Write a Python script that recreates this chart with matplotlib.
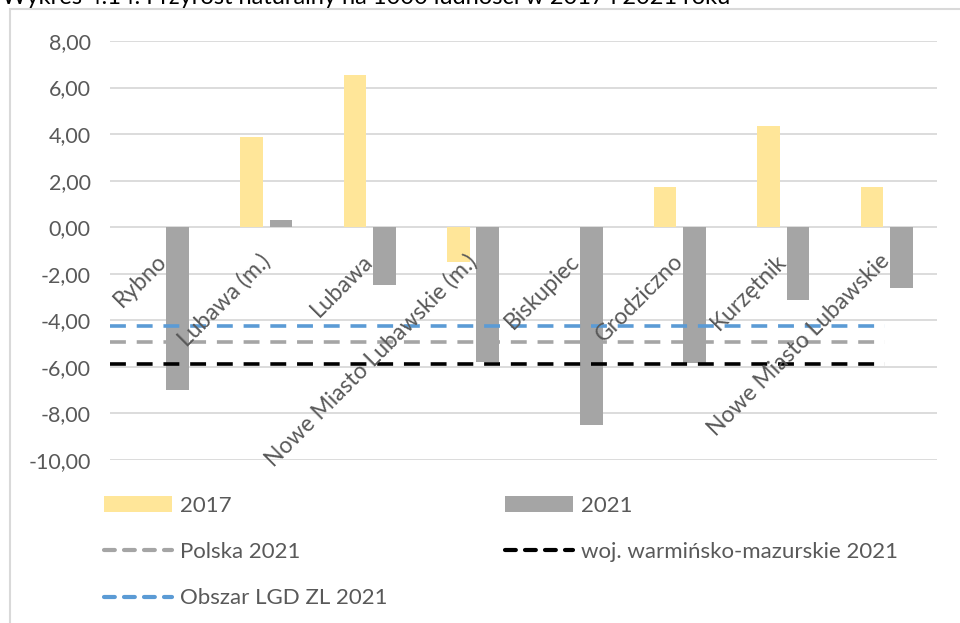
import numpy as np
import matplotlib.pyplot as plt
from matplotlib.lines import Line2D
from matplotlib.patches import Patch, Rectangle

plt.rcParams["font.family"] = ["Lato", "DejaVu Sans"]

# dane z wykresu
gminy = ["Rybno", "Lubawa (m.)", "Lubawa", "Nowe Miasto Lubawskie (m.)",
         "Biskupiec", "Grodziczno", "Kurzętnik", "Nowe Miasto Lubawskie"]
wart_2017 = [0.0, 3.88, 6.52, -1.49, 0.0, 1.73, 4.33, 1.73]
wart_2021 = [-7.0, 0.30, -2.49, -5.78, -8.50, -5.84, -3.13, -2.62]
polska_2021 = -4.95
woj_2021 = -5.87
lgd_2021 = -4.23
y_ticks = [8, 6, 4, 2, 0, -2, -4, -6, -8, -10]

C_2017 = "#FFE699"
C_2021 = "#A5A5A5"
C_LGD = "#5B9BD5"
C_TXT = "#595959"
C_GRID = "#D9D9D9"

W, H = 960, 623
fig = plt.figure(figsize=(W / 100, H / 100), dpi=100)

# ramka obszaru wykresu (przycięta z prawej i z dołu)
fig.patches.append(Rectangle((10 / W, -0.1), 1.2, 1 - 9.5 / H + 0.1,
                             transform=fig.transFigure, fill=False,
                             edgecolor=C_GRID, linewidth=1.5))

# tytuł – w oryginale widoczna tylko dolna część
fig.text(2 / W, 1 - 4 / H, "Wykres 4.14. Przyrost naturalny na 1000 ludności w 2017 i 2021 roku",
         fontsize=17, color="black", ha="left", va="baseline")

ax = fig.add_axes([110 / W, 1 - 460 / H, 827 / W, 419 / H])
x = np.arange(len(gminy))
bw = 0.22
ax.bar(x - 0.13, wart_2017, bw, color=C_2017, zorder=2)
ax.bar(x + 0.155, wart_2021, bw, color=C_2021, zorder=2)

x0, x1 = -0.5, 7.0
ax.plot([x0, x1], [lgd_2021] * 2, color=C_LGD, lw=2.6, ls=(0, (4.4, 3.0)), zorder=3)
ax.plot([x0, x1], [polska_2021] * 2, color=C_2021, lw=2.6, ls=(0, (4.4, 3.0)), zorder=3)
ax.plot([x0, x1], [woj_2021] * 2, color="black", lw=2.6, ls=(0, (4.4, 3.0)), zorder=3)

ax.set_xlim(-0.5, len(gminy) - 0.5)
ax.set_ylim(-10, 8)
ax.set_yticks(y_ticks)
ax.set_yticklabels([f"{v:.2f}".replace(".", ",") for v in y_ticks])
ax.tick_params(axis="y", length=0, pad=14, labelsize=15.5, labelcolor=C_TXT)
ax.set_xticks([])
ax.grid(axis="y", color=C_GRID, linewidth=1.3, zorder=0)
for s in ax.spines.values():
    s.set_visible(False)

# etykiety kategorii pod osią zero
for i, name in enumerate(gminy):
    ax.text(i - 0.06, -1.0, name, rotation=45, rotation_mode="anchor",
            ha="right", va="top", fontsize=16.5, color=C_TXT, zorder=4)

# legenda
dash_h = (0, (2.6, 2.2))
handles = [
    Patch(facecolor=C_2017, edgecolor="none"),
    Line2D([], [], color=C_2021, lw=3, ls=dash_h, dash_capstyle="round"),
    Line2D([], [], color=C_LGD, lw=3, ls=dash_h, dash_capstyle="round"),
    Patch(facecolor=C_2021, edgecolor="none"),
    Line2D([], [], color="black", lw=3, ls=dash_h, dash_capstyle="round"),
]
labels = ["2017", "Polska 2021", "Obszar LGD ZL 2021", "2021",
          "woj. warmińsko-mazurskie 2021"]
leg = fig.legend(handles, labels, ncol=2, loc="upper left",
                 bbox_to_anchor=(84 / W, 1 - 476 / H), frameon=False,
                 fontsize=16, labelcolor=C_TXT, handlelength=3.06,
                 handleheight=0.75, handletextpad=0.36, labelspacing=1.18,
                 columnspacing=5.3)

fig.savefig("out.png", dpi=100)
